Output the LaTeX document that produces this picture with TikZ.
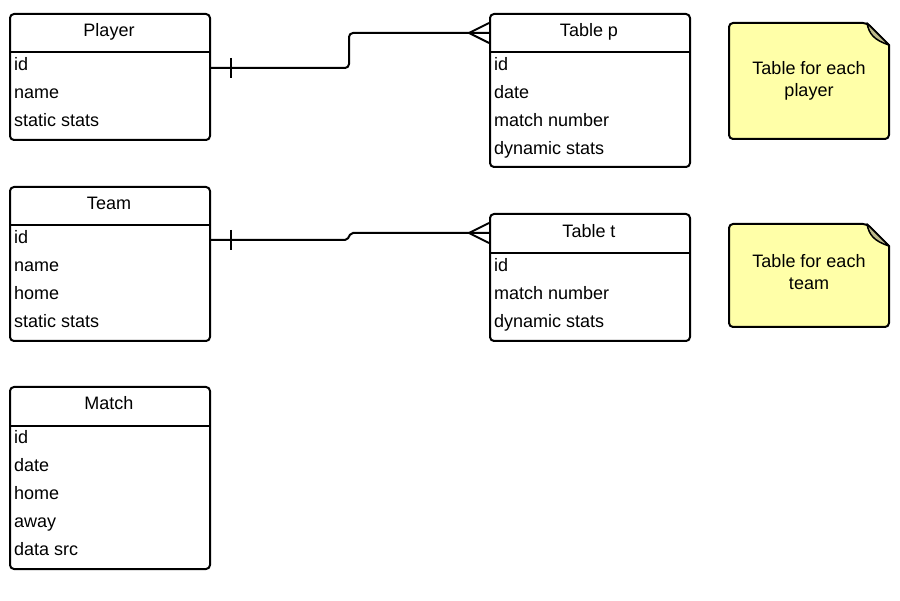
\documentclass[tikz,border=0pt]{standalone}
\usepackage{fontspec}
\setmainfont{Liberation Sans}
\usetikzlibrary{calc}
\definecolor{notefill}{HTML}{FFFFA8}
\definecolor{foldfill}{HTML}{BDB98A}
\begin{document}
\begin{tikzpicture}[x=1pt,y=-1pt,
  ent/.style={draw, line width=2pt, rounded corners=4pt, inner sep=0pt, anchor=north west, minimum width=200pt},
  hdr/.style={font=\fontsize{18}{20}\selectfont, anchor=base, inner sep=0pt},
  row/.style={font=\fontsize{18}{20}\selectfont, anchor=base west, inner sep=0pt},
  ntxt/.style={font=\fontsize{18}{22}\selectfont, align=center, inner sep=0pt},
  conn/.style={line width=2pt},
  note/.style={draw, line width=2pt, fill=notefill, rounded corners=4pt},
  fold/.style={draw, line width=1.5pt, fill=foldfill, line join=round}
]
\useasboundingbox (0,0) rectangle (900,601);

% ---------- Player ----------
\node[ent, minimum height=126pt] (player) at (9,13) {};
\draw[conn] (9,52) -- (209,52);
\node[hdr] (playerH) at (109,37) {Player};
\node[row] (player1) at (14,71) {id};
\node[row] (player2) at (14,99) {name};
\node[row] (player3) at (14,127) {static stats};

% ---------- Table p ----------
\node[ent, minimum height=153pt] (tablep) at (489,13) {};
\draw[conn] (489,52) -- (689,52);
\node[hdr] (tablepH) at (589,37) {Table p};
\node[row] (tablep1) at (494,71) {id};
\node[row] (tablep2) at (494,99) {date};
\node[row] (tablep3) at (494,127) {match number};
\node[row] (tablep4) at (494,155) {dynamic stats};

% ---------- Team ----------
\node[ent, minimum height=154pt] (team) at (9,186) {};
\draw[conn] (9,225) -- (209,225);
\node[hdr] (teamH) at (109,210) {Team};
\node[row] (team1) at (14,244) {id};
\node[row] (team2) at (14,272) {name};
\node[row] (team3) at (14,300) {home};
\node[row] (team4) at (14,328) {static stats};

% ---------- Table t ----------
\node[ent, minimum height=127pt] (tablet) at (489,213) {};
\draw[conn] (489,253) -- (689,253);
\node[hdr] (tabletH) at (589,238) {Table t};
\node[row] (tablet1) at (494,272) {id};
\node[row] (tablet2) at (494,300) {match number};
\node[row] (tablet3) at (494,328) {dynamic stats};

% ---------- Match ----------
\node[ent, minimum height=182pt] (match) at (9,386) {};
\draw[conn] (9,426) -- (209,426);
\node[hdr] (matchH) at (109,410) {Match};
\node[row] (match1) at (14,444) {id};
\node[row] (match2) at (14,471.75) {date};
\node[row] (match3) at (14,499.5) {home};
\node[row] (match4) at (14,527.25) {away};
\node[row] (match5) at (14,555) {data src};

% ---------- Notes ----------
\draw[note] (729,23) -- (867,23) [sharp corners] -- (889,45) [rounded corners=4pt] -- (889,139) -- (729,139) -- cycle;
\draw[fold] (867,23) .. controls (869,34) and (874,40) .. (889,45) -- cycle;
\node[ntxt] (note1) at (809,80.5) {Table for each\\player};

\draw[note] (729,224) -- (867,224) [sharp corners] -- (889,246) [rounded corners=4pt] -- (889,327) -- (729,327) -- cycle;
\draw[fold] (867,224) .. controls (869,235) and (874,241) .. (889,246) -- cycle;
\node[ntxt] (note2) at (809,272.5) {Table for each\\team};

% ---------- Connectors ----------
\coordinate (pS) at ($(player.north east)+(0,55)$);
\coordinate (pE) at ($(tablep.north west)+(0,20)$);
\draw[conn, rounded corners=4pt] (pS) -- (349,68) -- (349,33) -- (pE);
\draw[conn] ($(pS)+(20,-10)$) -- ($(pS)+(20,10)$);
\draw[conn, line join=miter] ($(pE)+(0,-10)$) -- ($(pE)+(-20,0)$) -- ($(pE)+(0,10)$);

\coordinate (tS) at ($(team.north east)+(0,54)$);
\coordinate (tE) at ($(tablet.north west)+(0,20)$);
\draw[conn, rounded corners=2pt] (tS) -- (347,240) -- (351,233) -- (tE);
\draw[conn] ($(tS)+(20,-10)$) -- ($(tS)+(20,10)$);
\draw[conn, line join=miter] ($(tE)+(0,-10)$) -- ($(tE)+(-20,0)$) -- ($(tE)+(0,10)$);
\end{tikzpicture}
\end{document}
